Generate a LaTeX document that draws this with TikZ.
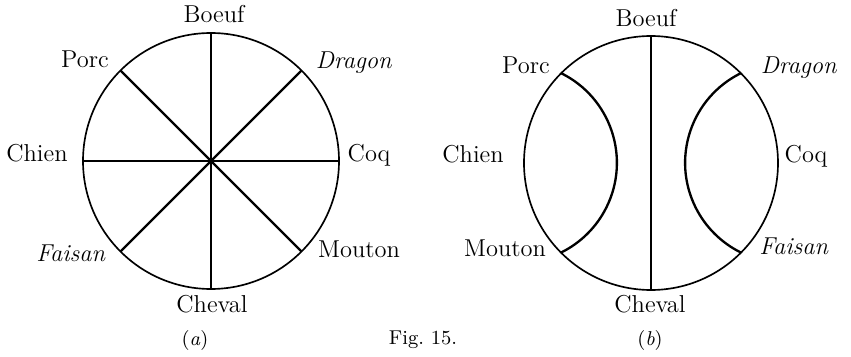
\documentclass[tikz,border=0pt]{standalone}
\usetikzlibrary{calc}
\tikzset{
rim/.style={line width=0.75pt},
spoke/.style={line width=1pt},
bow/.style={line width=1.05pt},
animal/.style={anchor=base,inner sep=0pt,font=\fontsize{11}{13}\selectfont},
caption/.style={anchor=base,inner sep=0pt,font=\small},
}

\begin{document}
\begin{tikzpicture}[x=0.45pt,y=0.45pt]
        \useasboundingbox (0,0) rectangle (851,357);

        \coordinate (ca) at (211,196);
        \coordinate (cb) at (651,194);

        % Circle (a)
        \draw[rim] (ca) circle[radius=128];
        \foreach \ang/\pos in {90/top,45/ne,0/right,-45/se,-90/bottom,-135/sw,180/left,135/nw}
            \coordinate (a \pos) at ($(ca)+(\ang:128)$);
        % Spokes
        \draw[spoke] (a top) -- (a bottom);
        \draw[spoke] (a left) -- (a right);
        \draw[spoke] (a nw) -- (a se);
        \draw[spoke] (a ne) -- (a sw);

        \node[animal] (a boeuf) at (214,334) {Boeuf};
        \node[animal] (a porc) at (85,289) {Porc};
        \node[animal] (a dragon) at (354,288) {\textit{Dragon}};
        \node[animal] (a chien) at (37,195) {Chien};
        \node[animal] (a coq) at (369,195) {Coq};
        \node[animal] (a faisan) at (71,95) {\textit{Faisan}};
        \node[animal] (a mouton) at (359,99) {Mouton};
        \node[animal] (a cheval) at (212,45) {Cheval};

        % Circle (b)
        \draw[rim] (cb) circle[radius=127];
        \foreach \ang/\pos in {90/top,45/ne,-45/se,-90/bottom,-135/sw,135/nw}
            \coordinate (b \pos) at ($(cb)+(\ang:127)$);
        \draw[rim] (b top) -- (b bottom);
        % Arcs (left and right)
        \draw[bow] (b nw) arc[start angle=63.7,end angle=-63.7,radius=100];
        \draw[bow] (b ne) arc[start angle=116.3,end angle=243.7,radius=100];

        \node[animal] (b boeuf) at (646,330) {Boeuf};
        \node[animal] (b porc) at (526,283) {Porc};
        \node[animal] (b dragon) at (799,283) {\textit{Dragon}};
        \node[animal] (b chien) at (473,194) {Chien};
        \node[animal] (b coq) at (806,194) {Coq};
        \node[animal] (b mouton) at (505,100) {Mouton};
        \node[animal] (b faisan) at (794,102) {\textit{Faisan}};
        \node[animal] (b cheval) at (650,44) {Cheval};

        % Captions
        \node[caption] (cap a) at (195,11) {(\textit{a})};
        \node[caption] (cap fig) at (423,12) {Fig.\ 15.};
        \node[caption] (cap b) at (650,11) {(\textit{b})};

\end{tikzpicture}
\end{document}
